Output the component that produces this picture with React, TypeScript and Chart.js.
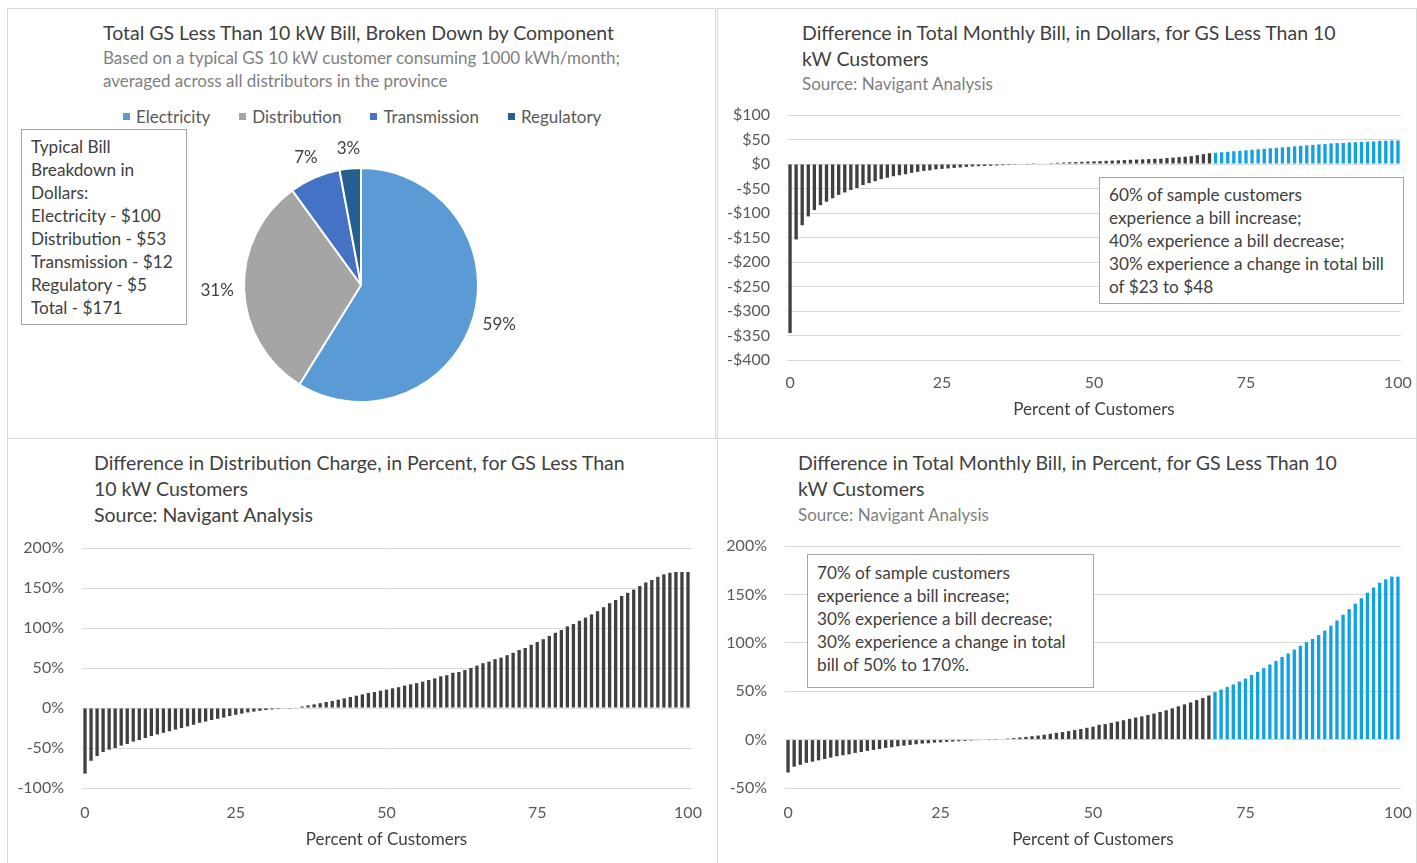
import React, { useEffect, useRef } from "react";
import { Chart, registerables } from "chart.js";

Chart.register(...registerables);

const FONT = "Lato, 'Open Sans', sans-serif";
const TEXT_DARK = "#404040";
const TEXT_GRAY = "#7f7f7f";
const AXIS_TEXT = "#595959";
const GRID = "#d9d9d9";
const BAR_DARK = "#404040";
const BAR_BLUE = "#12A2E2";

// ---------- Pie data ----------
const componentLabels = ["Electricity", "Distribution", "Transmission", "Regulatory"];
const componentDollars = [100, 53, 12, 5];
const componentColors = ["#5B9BD5", "#A5A5A5", "#4472C4", "#255E91"];
const billBreakdownLines = [
  "Typical Bill",
  "Breakdown in",
  "Dollars:",
  "Electricity - $100",
  "Distribution - $53",
  "Transmission - $12",
  "Regulatory - $5",
  "Total - $171",
];

// ---------- Bar data ----------
const customerPercentiles = Array.from({ length: 101 }, (_, i) => String(i));
const xTickLabels = ["0", "25", "50", "75", "100"];

const billDiffDollars = [
  -345, -154, -125, -107, -94, -84, -77, -70, -63, -58,
  -53, -49, -43, -39, -35, -31, -28, -25, -23, -21,
  -18, -16, -14, -13, -11, -10, -9, -8, -7, -6,
  -5, -4.5, -4, -3.5, -3, -2.5, -2, -1.5, -1, -0.5,
  0.3, 0.8, 1.2, 1.8, 2.5, 3, 3.5, 4, 4.5, 5,
  5.5, 6, 6.5, 7, 7.5, 8, 8.5, 9, 9.5, 10,
  10.5, 11, 12, 13, 14, 15, 16, 18, 20, 22,
  23, 24, 25, 26, 27, 28, 29, 30, 31, 32,
  33, 34, 35, 36, 37, 38, 39, 40, 41, 42,
  42.5, 43, 44, 44.5, 45, 45.5, 46, 47, 47.5, 48,
  48,
];

const distChargeDiffPct = [
  -82, -66, -60, -55, -52, -50, -47, -45, -42, -40,
  -37.5, -35, -33, -31, -29, -27, -25, -23, -21, -18.5,
  -17, -15, -13.5, -12, -10, -8.5, -7, -5.5, -4.5, -3.5,
  -2.5, -1.8, -1.2, -0.6, -0.2, 0.8, 2, 3.3, 4.6, 6,
  7.5, 8.8, 10.4, 12, 13.8, 15.4, 17, 18.8, 20, 21.7,
  23, 24.6, 26, 28, 29.6, 31, 33, 35, 37, 39.6,
  41, 44, 45, 47.5, 50, 53, 56, 58, 61, 63,
  66, 69, 72.5, 75, 79, 82.5, 86, 90, 94, 97.5,
  102, 105, 109, 113, 117, 121, 126, 131, 135, 140,
  144, 148, 152.5, 157, 160, 164, 167, 169, 170, 170,
  170,
];

const billDiffPct = [
  -34, -28, -26, -24, -22.8, -21.4, -20, -18.6, -17.2, -16.2,
  -15.2, -13.8, -12.8, -11.7, -10.7, -9.7, -8.6, -7.9, -6.9, -6.2,
  -5.5, -4.8, -4.1, -3.8, -3.1, -2.8, -2.4, -2, -1.7, -1.4,
  -1, -0.7, -0.5, -0.2, 0.2, 0.5, 1, 1.5, 2.2, 2.8,
  3.5, 4.2, 5, 6, 7, 7.8, 8.8, 9.8, 11, 12.2,
  13.3, 15.3, 16, 17.3, 18.7, 20, 21.4, 22.8, 24, 25.5,
  26.9, 28.6, 30.3, 32.3, 34.4, 36.4, 38.4, 40.8, 42.9, 45.6,
  49, 51.7, 54.4, 57, 60, 63, 66.7, 70, 73.8, 77.6,
  81.3, 85.4, 89, 93, 97, 100.7, 104, 108, 112.6, 117.7,
  123, 129, 134.7, 140.5, 146, 151.7, 157, 162, 165.6, 168.4,
  168.4,
];

const highlightFromIndex = 70;

const dollarsNote = [
  "60% of sample customers",
  "experience a bill increase;",
  "40% experience a bill decrease;",
  "30% experience a change in total bill",
  "of $23 to $48",
];
const percentNote = [
  "70% of sample customers",
  "experience a bill increase;",
  "30% experience a bill decrease;",
  "30% experience a change in total",
  "bill of 50% to 170%.",
];

const fmtDollar = (v: number) => (v < 0 ? "-$" + Math.abs(v) : "$" + v);
const fmtPct = (v: number) => v + "%";

type Area = { l: number; t: number; r: number; b: number };

function BarPanel(props: {
  left: number;
  top: number;
  width: number;
  height: number;
  area: Area;
  values: number[];
  highlightFrom: number;
  min: number;
  max: number;
  format: (v: number) => string;
  yPad: number;
  xLabelOffset: number;
  titlePad: number;
}) {
  const ref = useRef<HTMLCanvasElement>(null);
  useEffect(() => {
    const { left, top, width, height, area } = props;
    const L = area.l - left;
    const R = area.r - left;
    const T = area.t - top;
    const B = area.b - top;
    const chart = new Chart(ref.current as HTMLCanvasElement, {
      type: "bar",
      data: {
        labels: customerPercentiles,
        datasets: [
          {
            data: props.values,
            backgroundColor: props.values.map((_, i) =>
              i >= props.highlightFrom ? BAR_BLUE : BAR_DARK
            ),
            barPercentage: 0.55,
            categoryPercentage: 1,
          },
        ],
      },
      options: {
        responsive: false,
        animation: false,
        devicePixelRatio: 1,
        layout: { padding: { left: 0, top: T, right: width - R, bottom: 0 } },
        plugins: { legend: { display: false }, tooltip: { enabled: false } },
        scales: {
          x: {
            grid: { display: false, drawTicks: false },
            border: { display: false },
            ticks: {
              autoSkip: false,
              maxRotation: 0,
              minRotation: 0,
              padding: 0,
              color: AXIS_TEXT,
              font: { family: FONT, size: 16, lineHeight: props.xLabelOffset * 2 + "px" },
              callback: (_v: any, i: number) =>
                xTickLabels.includes(customerPercentiles[i]) ? customerPercentiles[i] : "",
            },
            title: {
              display: true,
              text: "Percent of Customers",
              color: TEXT_DARK,
              font: { family: FONT, size: 17 },
              padding: { top: 0, bottom: props.titlePad },
            },
            afterFit: (s: any) => {
              s.height = height - B;
            },
          },
          y: {
            min: props.min,
            max: props.max,
            grid: { color: GRID, lineWidth: 1, drawTicks: false },
            border: { display: false },
            ticks: {
              stepSize: 50,
              padding: props.yPad,
              color: AXIS_TEXT,
              font: { family: FONT, size: 16 },
              callback: (v: any) => props.format(Number(v)),
            },
            afterFit: (s: any) => {
              s.width = L;
            },
          },
        },
      } as any,
    });
    return () => chart.destroy();
  }, []);
  return (
    <canvas
      ref={ref}
      width={props.width}
      height={props.height}
      style={{ position: "absolute", left: props.left, top: props.top, width: props.width, height: props.height }}
    />
  );
}

function PiePanel(props: { left: number; top: number; width: number; height: number; cx: number; cy: number; r: number }) {
  const ref = useRef<HTMLCanvasElement>(null);
  useEffect(() => {
    const total = componentDollars.reduce((a, b) => a + b, 0);
    const labelPlugin = {
      id: "pieLabels",
      afterDatasetsDraw(chart: any) {
        const ctx = chart.ctx;
        const meta = chart.getDatasetMeta(0);
        ctx.save();
        ctx.font = `17px ${FONT}`;
        ctx.fillStyle = TEXT_DARK;
        ctx.textAlign = "center";
        ctx.textBaseline = "middle";
        meta.data.forEach((arc: any, i: number) => {
          const p = arc.getProps(["x", "y", "startAngle", "endAngle", "outerRadius"], true);
          const mid = (p.startAngle + p.endAngle) / 2;
          const rr = p.outerRadius + 19 + 8 * Math.abs(Math.cos(mid));
          ctx.fillText(
            Math.round((componentDollars[i] / total) * 100) + "%",
            p.x + Math.cos(mid) * rr,
            p.y + Math.sin(mid) * rr
          );
        });
        ctx.restore();
      },
    };
    const { left, top, width, height, cx, cy, r } = props;
    const chart = new Chart(ref.current as HTMLCanvasElement, {
      type: "pie",
      data: {
        labels: componentLabels,
        datasets: [
          {
            data: componentDollars,
            backgroundColor: componentColors,
            borderColor: "#ffffff",
            borderWidth: 2,
          },
        ],
      },
      options: {
        responsive: false,
        animation: false,
        devicePixelRatio: 1,
        layout: {
          padding: {
            left: cx - r - left,
            right: width - (cx + r - left),
            top: cy - r - top,
            bottom: height - (cy + r - top),
          },
        },
        plugins: { legend: { display: false }, tooltip: { enabled: false } },
      } as any,
      plugins: [labelPlugin],
    });
    return () => chart.destroy();
  }, []);
  return (
    <canvas
      ref={ref}
      width={props.width}
      height={props.height}
      style={{ position: "absolute", left: props.left, top: props.top, width: props.width, height: props.height }}
    />
  );
}

function Lines(props: { left: number; top: number; lines: string[]; size: number; color: string; lh: number }) {
  return (
    <div
      style={{
        position: "absolute",
        left: props.left,
        top: props.top,
        fontFamily: FONT,
        fontSize: props.size,
        color: props.color,
        lineHeight: props.lh + "px",
        whiteSpace: "nowrap",
      }}
    >
      {props.lines.map((l, i) => (
        <div key={i}>{l}</div>
      ))}
    </div>
  );
}

function NoteBox(props: { left: number; top: number; width: number; height: number; lines: string[]; padTop: number }) {
  return (
    <div
      style={{
        position: "absolute",
        left: props.left,
        top: props.top,
        width: props.width,
        height: props.height,
        boxSizing: "border-box",
        border: "1px solid #a6a6a6",
        background: "#ffffff",
        paddingLeft: 9,
        paddingTop: props.padTop,
        fontFamily: FONT,
        fontSize: 17.2,
        color: TEXT_DARK,
        lineHeight: "23px",
        whiteSpace: "nowrap",
      }}
    >
      {props.lines.map((l, i) => (
        <div key={i}>{l}</div>
      ))}
    </div>
  );
}

function Frame(props: { left: number; top: number; right: number; bottom: number }) {
  return (
    <div
      style={{
        position: "absolute",
        left: props.left,
        top: props.top,
        width: props.right - props.left,
        height: props.bottom - props.top,
        boxSizing: "border-box",
        border: "1px solid #d9d9d9",
      }}
    />
  );
}

const TITLE_SIZE = 19.5;
const SUB_SIZE = 17;

export default function App() {
  return (
    <div
      style={{
        position: "absolute",
        left: 0,
        top: 0,
        width: 1417,
        height: 863,
        overflow: "hidden",
        background: "#ffffff",
      }}
    >
      <Frame left={7} top={8} right={716} bottom={439} />
      <Frame left={717} top={8} right={1417} bottom={439} />
      <Frame left={7} top={438} right={718} bottom={870} />
      <Frame left={717} top={438} right={1417} bottom={870} />

      {/* Top-left: pie */}
      <Lines left={103} top={20} lines={["Total GS Less Than 10 kW Bill, Broken Down by Component"]} size={TITLE_SIZE} color={TEXT_DARK} lh={26} />
      <Lines
        left={103}
        top={45.5}
        lines={["Based on a typical GS 10 kW customer consuming 1000 kWh/month;", "averaged across all distributors in the province"]}
        size={SUB_SIZE}
        color={TEXT_GRAY}
        lh={23}
      />
      <div
        style={{
          position: "absolute",
          left: 123,
          top: 104,
          height: 24,
          display: "flex",
          alignItems: "center",
          gap: 29,
          fontFamily: FONT,
          fontSize: 17,
          color: AXIS_TEXT,
          whiteSpace: "nowrap",
        }}
      >
        {componentLabels.map((lab, i) => (
          <div key={lab} style={{ display: "flex", alignItems: "center" }}>
            <span style={{ display: "inline-block", width: 7, height: 7, background: componentColors[i], marginRight: 6 }} />
            <span>{lab}</span>
          </div>
        ))}
      </div>
      <PiePanel left={7} top={8} width={708} height={430} cx={361} cy={285} r={118} />
      <NoteBox left={21} top={129} width={166} height={196} lines={billBreakdownLines} padTop={4.5} />

      {/* Top-right: dollars */}
      <Lines
        left={802}
        top={20}
        lines={["Difference in Total Monthly Bill, in Dollars, for GS Less Than 10", "kW Customers"]}
        size={TITLE_SIZE}
        color={TEXT_DARK}
        lh={26}
      />
      <Lines left={802} top={71.5} lines={["Source: Navigant Analysis"]} size={SUB_SIZE} color={TEXT_GRAY} lh={23} />
      <BarPanel
        left={717}
        top={8}
        width={699}
        height={430}
        area={{ l: 787, t: 115, r: 1401, b: 360 }}
        values={billDiffDollars}
        highlightFrom={highlightFromIndex}
        min={-400}
        max={100}
        format={fmtDollar}
        yPad={17}
        xLabelOffset={23}
        titlePad={18}
      />
      <NoteBox left={1099} top={177} width={305} height={127} lines={dollarsNote} padTop={4.5} />

      {/* Bottom-left: distribution % */}
      <Lines
        left={94}
        top={450}
        lines={["Difference in Distribution Charge, in Percent, for GS Less Than", "10 kW Customers", "Source: Navigant Analysis"]}
        size={TITLE_SIZE}
        color={TEXT_DARK}
        lh={26}
      />
      <BarPanel
        left={7}
        top={438}
        width={709}
        height={425}
        area={{ l: 82, t: 548, r: 691, b: 788 }}
        values={distChargeDiffPct}
        highlightFrom={999}
        min={-100}
        max={200}
        format={fmtPct}
        yPad={18}
        xLabelOffset={25}
        titlePad={13}
      />

      {/* Bottom-right: total bill % */}
      <Lines
        left={798}
        top={450}
        lines={["Difference in Total Monthly Bill, in Percent, for GS Less Than 10", "kW Customers"]}
        size={TITLE_SIZE}
        color={TEXT_DARK}
        lh={26}
      />
      <Lines left={798} top={502.5} lines={["Source: Navigant Analysis"]} size={SUB_SIZE} color={TEXT_GRAY} lh={23} />
      <BarPanel
        left={717}
        top={438}
        width={699}
        height={425}
        area={{ l: 785, t: 546, r: 1401, b: 788 }}
        values={billDiffPct}
        highlightFrom={highlightFromIndex}
        min={-50}
        max={200}
        format={fmtPct}
        yPad={18}
        xLabelOffset={25}
        titlePad={13}
      />
      <NoteBox left={807} top={554} width={287} height={134} lines={percentNote} padTop={5.5} />
    </div>
  );
}
